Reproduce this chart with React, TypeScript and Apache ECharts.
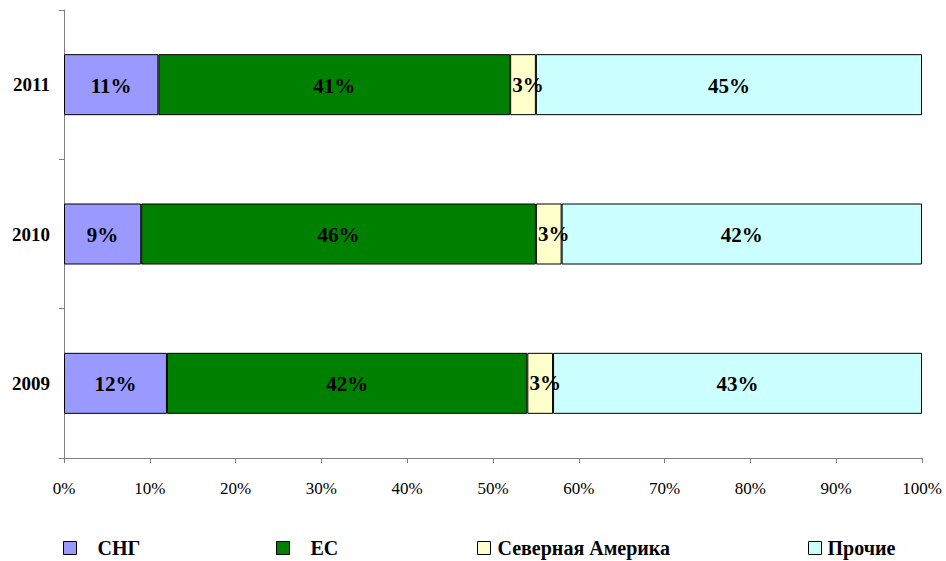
import React, { useEffect, useRef } from "react";
import * as echarts from "echarts";

const categories = ["2009", "2010", "2011"];
const sng = [12, 9, 11];
const es = [42, 46, 41];
const northAmerica = [3, 3, 3];
const others = [43, 42, 45];
const seriesNames = ["СНГ", "ЕС", "Северная Америка", "Прочие"];
const seriesColors = ["#9999FF", "#008000", "#FFFFCC", "#CCFFFF"];

const FONT = "Liberation Serif, Times New Roman, serif";

export default function App() {
  const ref = useRef<HTMLDivElement>(null);
  useEffect(() => {
    if (!ref.current) return;
    const chart = echarts.init(ref.current, null, { renderer: "svg" });
    const values = [sng, es, northAmerica, others];
    const legendLefts = [63, 276, 477, 808];
    const legendPads = [16, 16, 2, 1];
    const labelOffsets = [[0, 1], [0, 1], [5, 0], [0, 1]];
    chart.setOption({
      animation: false,
      backgroundColor: "#ffffff",
      textStyle: { fontFamily: FONT },
      grid: { left: 64, right: 24, top: 10, bottom: 103, containLabel: false },
      legend: seriesNames.map((n, i) => ({
        data: [n],
        left: legendLefts[i],
        top: 538,
        padding: 0,
        itemWidth: 13,
        itemHeight: 13,
        icon: "rect",
        itemStyle: { borderColor: "#000", borderWidth: 1 },
        textStyle: {
          fontFamily: FONT,
          fontWeight: "bold",
          fontSize: 20,
          color: "#000",
          padding: [0, 0, 0, legendPads[i]],
        },
        selectedMode: false,
      })),
      xAxis: {
        type: "value",
        min: 0,
        max: 100,
        interval: 10,
        axisLine: { show: true, lineStyle: { color: "#808080" } },
        axisTick: { show: true, length: 5, lineStyle: { color: "#808080" } },
        splitLine: { show: false },
        axisLabel: {
          formatter: "{value}%",
          fontFamily: FONT,
          fontSize: 17,
          color: "#000",
          margin: 22,
        },
      },
      yAxis: {
        type: "category",
        data: categories,
        axisLine: { show: true, lineStyle: { color: "#808080" } },
        axisTick: { show: true, length: 5, lineStyle: { color: "#808080" } },
        axisLabel: {
          fontFamily: FONT,
          fontWeight: "bold",
          fontSize: 19,
          color: "#000",
          margin: 14,
        },
      },
      series: seriesNames.map((n, i) => ({
        name: n,
        type: "bar",
        stack: "total",
        barWidth: 61,
        data: values[i],
        itemStyle: { color: seriesColors[i], borderColor: "#000", borderWidth: 1 },
        label: {
          show: true,
          position: "inside",
          offset: labelOffsets[i],
          formatter: "{c}%",
          fontFamily: FONT,
          fontWeight: "bold",
          fontSize: 21,
          color: "#000",
        },
      })),
    });
    return () => chart.dispose();
  }, []);
  return (
    <div style={{ position: "absolute", left: 0, top: 0 }}>
      <div ref={ref} style={{ width: 946, height: 561 }} />
    </div>
  );
}
